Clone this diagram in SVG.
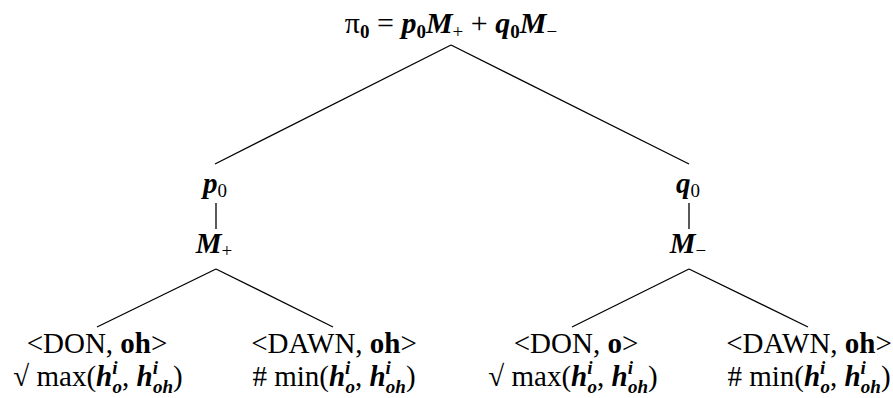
<svg xmlns="http://www.w3.org/2000/svg" width="893" height="398" viewBox="0 0 893 398">
<style>
text{font-family:"Liberation Serif","Times New Roman",serif;font-size:29px;fill:#000;text-anchor:middle}
.v{font-weight:bold;font-style:italic}
.b{font-weight:bold}
.s{font-size:19px}
.big{font-size:30px}
.conn line{stroke:#000;stroke-width:1.3}
</style>
<rect width="893" height="398" fill="#fff"/>
<g class="conn">
<line x1="451" y1="45" x2="215" y2="164"/>
<line x1="451" y1="45" x2="689" y2="164"/>
<line x1="216" y1="203" x2="216" y2="229"/>
<line x1="689" y1="203" x2="689" y2="229"/>
<line x1="216" y1="269" x2="97" y2="327"/>
<line x1="216" y1="269" x2="333" y2="327"/>
<line x1="689" y1="269" x2="572" y2="327"/>
<line x1="689" y1="269" x2="808" y2="327"/>
</g>
<g id="root"><text class="big" x="451" y="33">π<tspan class="s b" dy="5">0</tspan><tspan dy="-5"> = </tspan><tspan class="v">p</tspan><tspan class="s b" dy="5">0</tspan><tspan class="v" dy="-5">M</tspan><tspan class="s" dy="5">+</tspan><tspan dy="-5"> + </tspan><tspan class="v">q</tspan><tspan class="s b" dy="5">0</tspan><tspan class="v" dy="-5">M</tspan><tspan class="s" dy="5">−</tspan></text></g>
<g id="p0"><text x="215" y="193"><tspan class="v">p</tspan><tspan class="s" dy="4">0</tspan></text></g>
<g id="q0"><text x="688" y="193"><tspan class="v">q</tspan><tspan class="s" dy="4">0</tspan></text></g>
<g id="Mplus"><text x="214" y="253"><tspan class="v">M</tspan><tspan class="s" dy="4">+</tspan></text></g>
<g id="Mminus"><text x="688" y="253"><tspan class="v">M</tspan><tspan class="s" dy="4">−</tspan></text></g>
<g id="leaf1">
<text x="97" y="353">&lt;DON, <tspan class="b">oh</tspan>&gt;</text>
<text x="98" y="386">√ max(<tspan class="v">h</tspan><tspan class="v s" dy="-12">i</tspan><tspan class="v s" dx="-5" dy="19">o</tspan><tspan dy="-7">, </tspan><tspan class="v">h</tspan><tspan class="v s" dy="-12">i</tspan><tspan class="v s" dx="-5" dy="19">oh</tspan><tspan dy="-7">)</tspan></text>
</g>
<g id="leaf2">
<text x="334" y="353">&lt;DAWN, <tspan class="b">oh</tspan>&gt;</text>
<text x="334" y="386"># min(<tspan class="v">h</tspan><tspan class="v s" dy="-12">i</tspan><tspan class="v s" dx="-5" dy="19">o</tspan><tspan dy="-7">, </tspan><tspan class="v">h</tspan><tspan class="v s" dy="-12">i</tspan><tspan class="v s" dx="-5" dy="19">oh</tspan><tspan dy="-7">)</tspan></text>
</g>
<g id="leaf3">
<text x="576" y="353">&lt;DON, <tspan class="b">o</tspan>&gt;</text>
<text x="573" y="386">√ max(<tspan class="v">h</tspan><tspan class="v s" dy="-12">i</tspan><tspan class="v s" dx="-5" dy="19">o</tspan><tspan dy="-7">, </tspan><tspan class="v">h</tspan><tspan class="v s" dy="-12">i</tspan><tspan class="v s" dx="-5" dy="19">oh</tspan><tspan dy="-7">)</tspan></text>
</g>
<g id="leaf4">
<text x="809" y="353">&lt;DAWN, <tspan class="b">oh</tspan>&gt;</text>
<text x="809" y="386"># min(<tspan class="v">h</tspan><tspan class="v s" dy="-12">i</tspan><tspan class="v s" dx="-5" dy="19">o</tspan><tspan dy="-7">, </tspan><tspan class="v">h</tspan><tspan class="v s" dy="-12">i</tspan><tspan class="v s" dx="-5" dy="19">oh</tspan><tspan dy="-7">)</tspan></text>
</g>
</svg>
